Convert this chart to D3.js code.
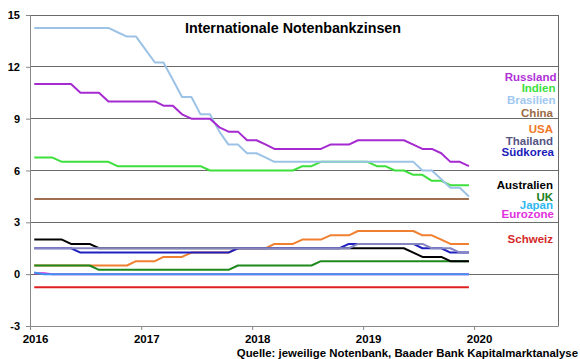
<!DOCTYPE html>
<html><head><meta charset="utf-8">
<script src="https://cdn.jsdelivr.net/npm/d3@7/dist/d3.min.js"></script>
<style>body{margin:0;background:#fff}svg{display:block;font-family:"Liberation Sans",Arial,sans-serif}</style>
</head><body><svg id="c" width="580" height="359"></svg>
<script>
// months Jan 2016 .. Dec 2019 (month-end values, plotted mid-month)
const months = d3.range(48).map(i => new Date(2016, i, 15));
const yearTicks = ["2016","2017","2018","2019","2020"];
const yTicks = [-3,0,3,6,9,12,15];

const russland = [11,11,11,11,11,10.5,10.5,10.5,10,10,10,10,10,10,9.75,9.75,9.25,9,9,9,8.5,8.25,8.25,7.75,7.75,7.5,7.25,7.25,7.25,7.25,7.25,7.25,7.5,7.5,7.5,7.75,7.75,7.75,7.75,7.75,7.75,7.5,7.25,7.25,7,6.5,6.5,6.25];
const indien = [6.75,6.75,6.75,6.5,6.5,6.5,6.5,6.5,6.5,6.25,6.25,6.25,6.25,6.25,6.25,6.25,6.25,6.25,6.25,6,6,6,6,6,6,6,6,6,6,6.25,6.25,6.5,6.5,6.5,6.5,6.5,6.5,6.25,6.25,6,6,5.75,5.75,5.4,5.4,5.15,5.15,5.15];
const brasilien = [14.25,14.25,14.25,14.25,14.25,14.25,14.25,14.25,14.25,14,13.75,13.75,13,12.25,12.25,11.25,10.25,10.25,9.25,9.25,8.25,7.5,7.5,7,7,6.75,6.5,6.5,6.5,6.5,6.5,6.5,6.5,6.5,6.5,6.5,6.5,6.5,6.5,6.5,6.5,6.5,6,6,5.5,5,5,4.5];
const china = [4.35,4.35,4.35,4.35,4.35,4.35,4.35,4.35,4.35,4.35,4.35,4.35,4.35,4.35,4.35,4.35,4.35,4.35,4.35,4.35,4.35,4.35,4.35,4.35,4.35,4.35,4.35,4.35,4.35,4.35,4.35,4.35,4.35,4.35,4.35,4.35,4.35,4.35,4.35,4.35,4.35,4.35,4.35,4.35,4.35,4.35,4.35,4.35];
const usa = [0.5,0.5,0.5,0.5,0.5,0.5,0.5,0.5,0.5,0.5,0.5,0.75,0.75,0.75,1,1,1,1.25,1.25,1.25,1.25,1.25,1.5,1.5,1.5,1.5,1.75,1.75,1.75,2,2,2,2.25,2.25,2.25,2.5,2.5,2.5,2.5,2.5,2.5,2.5,2.25,2.25,2,1.75,1.75,1.75];
const thailand = [1.5,1.5,1.5,1.5,1.5,1.5,1.5,1.5,1.5,1.5,1.5,1.5,1.5,1.5,1.5,1.5,1.5,1.5,1.5,1.5,1.5,1.5,1.5,1.5,1.5,1.5,1.5,1.5,1.5,1.5,1.5,1.5,1.5,1.5,1.5,1.75,1.75,1.75,1.75,1.75,1.75,1.75,1.75,1.5,1.5,1.5,1.25,1.25];
const suedkorea = [1.5,1.5,1.5,1.5,1.5,1.25,1.25,1.25,1.25,1.25,1.25,1.25,1.25,1.25,1.25,1.25,1.25,1.25,1.25,1.25,1.25,1.25,1.5,1.5,1.5,1.5,1.5,1.5,1.5,1.5,1.5,1.5,1.5,1.5,1.75,1.75,1.75,1.75,1.75,1.75,1.75,1.75,1.5,1.5,1.5,1.25,1.25,1.25];
const australien = [2,2,2,2,1.75,1.75,1.75,1.5,1.5,1.5,1.5,1.5,1.5,1.5,1.5,1.5,1.5,1.5,1.5,1.5,1.5,1.5,1.5,1.5,1.5,1.5,1.5,1.5,1.5,1.5,1.5,1.5,1.5,1.5,1.5,1.5,1.5,1.5,1.5,1.5,1.5,1.25,1,1,1,0.75,0.75,0.75];
const uk = [0.5,0.5,0.5,0.5,0.5,0.5,0.5,0.25,0.25,0.25,0.25,0.25,0.25,0.25,0.25,0.25,0.25,0.25,0.25,0.25,0.25,0.25,0.5,0.5,0.5,0.5,0.5,0.5,0.5,0.5,0.5,0.75,0.75,0.75,0.75,0.75,0.75,0.75,0.75,0.75,0.75,0.75,0.75,0.75,0.75,0.75,0.75,0.75];
const japan = [0.1,0,0,0,0,0,0,0,0,0,0,0,0,0,0,0,0,0,0,0,0,0,0,0,0,0,0,0,0,0,0,0,0,0,0,0,0,0,0,0,0,0,0,0,0,0,0,0];
const eurozone = [0.05,0.05,0,0,0,0,0,0,0,0,0,0,0,0,0,0,0,0,0,0,0,0,0,0,0,0,0,0,0,0,0,0,0,0,0,0,0,0,0,0,0,0,0,0,0,0,0,0];
const schweiz = [-0.75,-0.75,-0.75,-0.75,-0.75,-0.75,-0.75,-0.75,-0.75,-0.75,-0.75,-0.75,-0.75,-0.75,-0.75,-0.75,-0.75,-0.75,-0.75,-0.75,-0.75,-0.75,-0.75,-0.75,-0.75,-0.75,-0.75,-0.75,-0.75,-0.75,-0.75,-0.75,-0.75,-0.75,-0.75,-0.75,-0.75,-0.75,-0.75,-0.75,-0.75,-0.75,-0.75,-0.75,-0.75,-0.75,-0.75,-0.75];

const seriesNames = ["Russland","Indien","Brasilien","China","USA","Thailand","Südkorea","Australien","UK","Japan","Eurozone","Schweiz"];
const seriesValues = [russland,indien,brasilien,china,usa,thailand,suedkorea,australien,uk,japan,eurozone,schweiz];
const lineColors = ["#a52ad0","#3ddf3d","#9cc3e6","#a07050","#f08030","#8585c0","#2020c0","#000000","#1e8a1e","#3f95ee","#e020e0","#e02020"];
const labelColors = ["#b030d8","#3ce03c","#a0c8f0","#9c6b45","#f07828","#555585","#1c1cb8","#000000","#208020","#30b8f0","#e030e0","#d42a2a"];
const labelY = [76.7,88.3,100,113.3,129,141,151.7,185,196.7,205,214.3,239];
const labelRight = [556.5,555.5,555.5,553,553,553,554,553,553,553,554,553];
const drawOrder = [11,10,9,4,8,7,6,5,3,1,2,0];

const svg = d3.select("#c");
const L=30, R=558, T=15, B=326;
const x = d3.scaleTime().domain([new Date(2016,0,1), new Date(2020,9,3)]).range([L,R]);
const y = d3.scaleLinear().domain([-3,15]).range([B,T]);

// gridlines
svg.append("g").selectAll("line").data(yTicks.filter(v=>v>-3)).join("line")
  .attr("x1",L).attr("x2",R).attr("y1",d=>y(d)).attr("y2",d=>y(d))
  .attr("stroke","#6a6a6a").attr("stroke-width",1).attr("shape-rendering","crispEdges");
// right border
svg.append("line").attr("x1",R).attr("x2",R).attr("y1",T).attr("y2",B)
  .attr("stroke","#6a6a6a").attr("shape-rendering","crispEdges");

// y axis
const ya = svg.append("g").attr("transform",`translate(${L},0)`)
  .call(d3.axisLeft(y).tickValues(yTicks).tickSize(4).tickPadding(6).tickFormat(d=>String(d)));
ya.select(".domain").attr("stroke","#888");
ya.selectAll(".tick line").attr("stroke","#888");
ya.selectAll("text").attr("font-size","11px").attr("font-weight","bold").attr("fill","#000")
  .attr("font-family","'Liberation Sans',Arial,sans-serif");

// x axis
const yearDates = yearTicks.map(s=>new Date(+s,0,1));
const xa = svg.append("g").attr("transform",`translate(0,${B})`)
  .call(d3.axisBottom(x).tickValues(yearDates).tickSize(4).tickPadding(5).tickFormat((d,i)=>yearTicks[i]).tickSizeOuter(0));
xa.select(".domain").attr("stroke","#888");
xa.selectAll(".tick line").attr("stroke","#888");
xa.selectAll("text").attr("font-size","11.5px").attr("font-weight","bold").attr("fill","#000")
  .attr("dx","5").attr("font-family","'Liberation Sans',Arial,sans-serif");

// lines
const line = d3.line().x((d,i)=>x(months[i])).y(d=>y(d));
drawOrder.forEach(k=>{
  svg.append("path").datum(seriesValues[k]).attr("d",line)
    .attr("fill","none").attr("stroke",lineColors[k]).attr("stroke-width",2)
    .attr("stroke-linejoin","round");
});

// labels
svg.append("g").selectAll("text").data(seriesNames).join("text")
  .attr("x",(d,i)=>labelRight[i]).attr("y",(d,i)=>labelY[i]+4)
  .attr("text-anchor","end").attr("font-size","11.5px").attr("font-weight","bold")
  .attr("fill",(d,i)=>labelColors[i]).text(d=>d);

// title
svg.append("text").attr("x",293).attr("y",33).attr("text-anchor","middle")
  .attr("font-size","14.3px").attr("font-weight","bold").attr("fill","#000")
  .text("Internationale Notenbankzinsen");
// source
svg.append("text").attr("x",578).attr("y",357).attr("text-anchor","end")
  .attr("font-size","11.4px").attr("font-weight","bold").attr("fill","#000")
  .text("Quelle: jeweilige Notenbank, Baader Bank Kapitalmarktanalyse");
</script></body></html>
